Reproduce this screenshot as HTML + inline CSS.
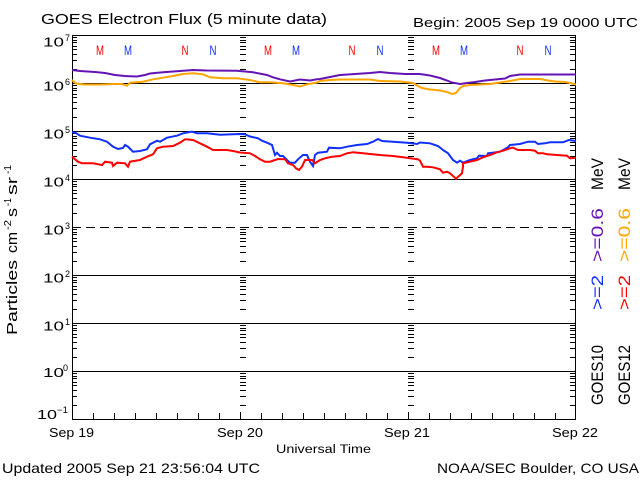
<!DOCTYPE html>
<html>
<head>
<meta charset="utf-8">
<style>
html,body{margin:0;padding:0;background:#fff;}
svg{display:block;}
text{font-family:"Liberation Sans",sans-serif;}
</style>
</head>
<body>
<svg width="640" height="480" viewBox="0 0 640 480" xmlns="http://www.w3.org/2000/svg">
<rect x="0" y="0" width="640" height="480" fill="#fff"/>
<defs>
<path id="tL" d="M0 -14H5M0 -23H5M0 -29H5M0 -34H5M0 -37H5M0 -41H5M0 -43H5M0 -46H5" stroke="#000" stroke-width="1" fill="none"/>
<path id="tD" d="M0 -14H6M0 -23H6M0 -29H6M0 -34H6M0 -37H6M0 -41H6M0 -43H6M0 -46H6" stroke="#000" stroke-width="1" fill="none"/>
<path id="tR" d="M0 -14H-5M0 -23H-5M0 -29H-5M0 -34H-5M0 -37H-5M0 -41H-5M0 -43H-5M0 -46H-5" stroke="#000" stroke-width="1" fill="none"/>
</defs>

<!-- grid lines -->
<g stroke="#000" stroke-width="1" fill="none">
<line x1="72" y1="83.5" x2="576" y2="83.5"/>
<line x1="72" y1="131.5" x2="576" y2="131.5"/>
<line x1="72" y1="179.5" x2="576" y2="179.5"/>
<line x1="72" y1="227.5" x2="576" y2="227.5" stroke-dasharray="9,5"/>
<line x1="72" y1="275.5" x2="576" y2="275.5"/>
<line x1="72" y1="323.5" x2="576" y2="323.5"/>
<line x1="72" y1="371.5" x2="576" y2="371.5"/>
<rect x="72.5" y="35.5" width="503" height="384"/>
<path d="M93.5 419V413M114.5 419V413M135.5 419V413M156.5 419V413M177.5 419V413M198.5 419V413M219.5 419V413M240.5 419V412M261.5 419V413M282.5 419V413M303.5 419V413M324.5 419V413M345.5 419V413M366.5 419V413M387.5 419V413M408.5 419V412M429.5 419V413M450.5 419V413M471.5 419V413M492.5 419V413M513.5 419V413M534.5 419V413M555.5 419V413"/>
</g>

<!-- minor log ticks -->
<g>
<use href="#tL" transform="translate(72,419.5)"/><use href="#tL" transform="translate(72,371.5)"/><use href="#tL" transform="translate(72,323.5)"/><use href="#tL" transform="translate(72,275.5)"/><use href="#tL" transform="translate(72,227.5)"/><use href="#tL" transform="translate(72,179.5)"/><use href="#tL" transform="translate(72,131.5)"/><use href="#tL" transform="translate(72,83.5)"/>
<use href="#tD" transform="translate(240,419.5)"/><use href="#tD" transform="translate(240,371.5)"/><use href="#tD" transform="translate(240,323.5)"/><use href="#tD" transform="translate(240,275.5)"/><use href="#tD" transform="translate(240,227.5)"/><use href="#tD" transform="translate(240,179.5)"/><use href="#tD" transform="translate(240,131.5)"/><use href="#tD" transform="translate(240,83.5)"/>
<use href="#tD" transform="translate(408,419.5)"/><use href="#tD" transform="translate(408,371.5)"/><use href="#tD" transform="translate(408,323.5)"/><use href="#tD" transform="translate(408,275.5)"/><use href="#tD" transform="translate(408,227.5)"/><use href="#tD" transform="translate(408,179.5)"/><use href="#tD" transform="translate(408,131.5)"/><use href="#tD" transform="translate(408,83.5)"/>
<use href="#tR" transform="translate(575,419.5)"/><use href="#tR" transform="translate(575,371.5)"/><use href="#tR" transform="translate(575,323.5)"/><use href="#tR" transform="translate(575,275.5)"/><use href="#tR" transform="translate(575,227.5)"/><use href="#tR" transform="translate(575,179.5)"/><use href="#tR" transform="translate(575,131.5)"/><use href="#tR" transform="translate(575,83.5)"/>
</g>

<!-- data series -->
<g fill="none" stroke-width="2" stroke-linejoin="miter">
<polyline stroke="#6414b4" points="72,70 80,71 95,72 105,73 115,75 125,76 137,76.5 145,75 150,73.5 163,72.3 180,71 193,70 207,70.5 237,70.7 253,72.3 267,75 273,77.3 280,79.3 290,81.5 300,79.5 310,80.5 317,79.3 320,79 330,77 340,75 355,74 370,73 380,72 390,73 405,74 420,74 430,75.5 440,78 447,80.5 452,82.5 460,84 467,83 475,82 485,80.5 495,79.5 505,78.5 510,76 520,74.5 540,74.5 576,74.5"/>
<polyline stroke="#ffa500" points="72,80 76,83.5 85,84.5 100,84.5 115,84 122,84 127,85.7 130,82.7 143,81.7 153,79.3 163,77.7 173,76 183,74 193,73.3 203,74.3 210,77.3 223,78.3 237,78.3 250,80 260,82.3 270,82.3 283,83.3 293,85 300,86.5 307,84.3 317,82.5 320,81 330,80 340,79.5 370,79.5 380,81 400,81.5 413,83 418,86 422,88 430,89.5 440,90.5 447,92 452,94 456,93 460,88 463,86 470,85 480,84.5 490,84 500,82.5 510,81 520,79 540,79 548,80.5 555,81.5 565,82 570,83 576,84.5"/>
<polyline stroke="#1030ff" points="72,132 76,133 80,135.7 90,137.7 100,139.3 107,141.7 113,146.7 118,149 123,148 125,145 128,146.7 133,151.7 140,151 147,149.3 150,144.3 157,140.7 160,141.7 167,137.7 177,135.7 183,133.3 192,131.7 197,133.3 207,133.3 220,134.7 233,134.3 240,134 245,134.3 250,136.5 258,138.3 262,140.7 267,142.7 272,145 273,148.3 275,155 277,152.7 280,156 283,156 287,160 290,162.7 295,162.7 298,159.3 303,155 307,155 310,161.7 313,166 315,155 318,152.7 327,151.7 329,147.7 340,148.3 347,146.7 357,145 367,144 373,141.7 378,139 382,141 393,141.7 407,142.7 417,144 420,142.5 430,143.3 438,146 443,150 448,153.3 453,160 457,162.7 460,160.7 463,162.7 470,160 477,158.3 479,155.7 487,156 488,153.3 500,151.7 508,147.3 510,145 520,144 528,141.7 535,141.7 538,144 545,143.3 550,142.3 563,142.3 569,140 576,141"/>
<polyline stroke="#ff0000" points="72,156.7 78,161.7 82,163.3 93,163.3 102,165 105,161.7 112,162.7 113,166 117,162.7 125,163.3 128,166.7 130,161.7 140,160 147,156.7 153,154.3 157,148.3 163,146.7 173,146 180,142.7 185,139.3 193,140 200,143.3 207,146.7 213,150 227,150 233,151 240,152.5 250,153.3 255,156 260,159.3 265,161.7 270,161.7 275,160 278,159 285,159.3 288,163.3 293,165 296,168.3 299,170 302,166.7 305,160 312,160 315,163.3 320,160 325,158.3 332,156.7 340,156 347,153.3 353,152.3 363,153.3 370,154 380,155 393,156 403,157.3 410,158.3 418,159.3 420,160.7 423,166.7 427,166.7 433,167.3 440,169.3 443,172.7 447,171.7 450,173.3 453,176 456,178.7 459,176 462,173.3 463,166.7 463,163.3 470,161.7 477,160 483,157.3 490,155 497,152.3 503,150.7 510,148.3 513,147.7 518,150 530,150 535,150.7 538,153.3 543,153.3 547,154.3 557,155 567,155.7 570,158.3 576,157.7"/>
</g>

<!-- M / N markers -->
<g font-size="14" text-anchor="middle">
<text x="100" y="55" fill="#ff0000" textLength="8" lengthAdjust="spacingAndGlyphs">M</text>
<text x="128" y="55" fill="#1030ff" textLength="8" lengthAdjust="spacingAndGlyphs">M</text>
<text x="185" y="55" fill="#ff0000" textLength="7" lengthAdjust="spacingAndGlyphs">N</text>
<text x="213" y="55" fill="#1030ff" textLength="7" lengthAdjust="spacingAndGlyphs">N</text>
<text x="268" y="55" fill="#ff0000" textLength="8" lengthAdjust="spacingAndGlyphs">M</text>
<text x="296" y="55" fill="#1030ff" textLength="8" lengthAdjust="spacingAndGlyphs">M</text>
<text x="352" y="55" fill="#ff0000" textLength="7" lengthAdjust="spacingAndGlyphs">N</text>
<text x="380" y="55" fill="#1030ff" textLength="7" lengthAdjust="spacingAndGlyphs">N</text>
<text x="436" y="55" fill="#ff0000" textLength="8" lengthAdjust="spacingAndGlyphs">M</text>
<text x="464" y="55" fill="#1030ff" textLength="8" lengthAdjust="spacingAndGlyphs">M</text>
<text x="520" y="55" fill="#ff0000" textLength="7" lengthAdjust="spacingAndGlyphs">N</text>
<text x="548" y="55" fill="#1030ff" textLength="7" lengthAdjust="spacingAndGlyphs">N</text>
</g>

<!-- title & header -->
<text x="41" y="24" font-size="15" textLength="286" lengthAdjust="spacingAndGlyphs">GOES Electron Flux (5 minute data)</text>
<text x="413" y="27" font-size="13" textLength="225" lengthAdjust="spacingAndGlyphs">Begin: 2005 Sep 19 0000 UTC</text>

<!-- y axis labels -->
<g font-size="13">
<text x="43" y="46.5" textLength="21" lengthAdjust="spacingAndGlyphs">10</text><text x="65" y="41" font-size="9">7</text>
<text x="43" y="90.5" textLength="21" lengthAdjust="spacingAndGlyphs">10</text><text x="65" y="85" font-size="9">6</text>
<text x="43" y="138.5" textLength="21" lengthAdjust="spacingAndGlyphs">10</text><text x="65" y="133" font-size="9">5</text>
<text x="43" y="186.5" textLength="21" lengthAdjust="spacingAndGlyphs">10</text><text x="65" y="181" font-size="9">4</text>
<text x="43" y="234.5" textLength="21" lengthAdjust="spacingAndGlyphs">10</text><text x="65" y="229" font-size="9">3</text>
<text x="43" y="282.5" textLength="21" lengthAdjust="spacingAndGlyphs">10</text><text x="65" y="277" font-size="9">2</text>
<text x="43" y="330.5" textLength="21" lengthAdjust="spacingAndGlyphs">10</text><text x="65" y="325" font-size="9">1</text>
<text x="43" y="377" textLength="21" lengthAdjust="spacingAndGlyphs">10</text><text x="63" y="371" font-size="9">0</text>
<text x="37" y="419" textLength="20" lengthAdjust="spacingAndGlyphs">10</text><text x="57" y="413" font-size="9" textLength="11" lengthAdjust="spacingAndGlyphs">−1</text>
</g>

<!-- y axis title -->
<g transform="translate(17,335) rotate(-90)">
<text x="0" y="0" font-size="15" textLength="75" lengthAdjust="spacingAndGlyphs">Particles</text>
<text x="82" y="0" font-size="15" textLength="21" lengthAdjust="spacingAndGlyphs">cm</text>
<text x="105" y="-6" font-size="10" textLength="10" lengthAdjust="spacingAndGlyphs">-2</text>
<text x="118" y="0" font-size="15" textLength="9" lengthAdjust="spacingAndGlyphs">s</text>
<text x="129" y="-6" font-size="10" textLength="8" lengthAdjust="spacingAndGlyphs">-1</text>
<text x="140" y="0" font-size="15" textLength="18" lengthAdjust="spacingAndGlyphs">sr</text>
<text x="161" y="-6" font-size="10" textLength="9" lengthAdjust="spacingAndGlyphs">-1</text>
</g>

<!-- right legend -->
<g transform="translate(603,405) rotate(-90)" font-size="17">
<text x="0" y="0" textLength="60" lengthAdjust="spacingAndGlyphs">GOES10</text>
<text x="95" y="0" fill="#1030ff" textLength="35" lengthAdjust="spacingAndGlyphs">&gt;=2</text>
<text x="143" y="0" fill="#6414b4" textLength="54" lengthAdjust="spacingAndGlyphs">&gt;=0.6</text>
<text x="215" y="0" textLength="32" lengthAdjust="spacingAndGlyphs">MeV</text>
</g>
<g transform="translate(630,405) rotate(-90)" font-size="17">
<text x="0" y="0" textLength="60" lengthAdjust="spacingAndGlyphs">GOES12</text>
<text x="95" y="0" fill="#ff0000" textLength="35" lengthAdjust="spacingAndGlyphs">&gt;=2</text>
<text x="143" y="0" fill="#ffa500" textLength="54" lengthAdjust="spacingAndGlyphs">&gt;=0.6</text>
<text x="215" y="0" textLength="32" lengthAdjust="spacingAndGlyphs">MeV</text>
</g>

<!-- x axis labels -->
<g font-size="13">
<text x="49" y="437" textLength="45" lengthAdjust="spacingAndGlyphs">Sep 19</text>
<text x="217" y="437" textLength="46" lengthAdjust="spacingAndGlyphs">Sep 20</text>
<text x="384" y="437" textLength="46" lengthAdjust="spacingAndGlyphs">Sep 21</text>
<text x="552" y="437" textLength="46" lengthAdjust="spacingAndGlyphs">Sep 22</text>
</g>
<text x="276" y="453" font-size="11.5" textLength="95" lengthAdjust="spacingAndGlyphs">Universal Time</text>

<!-- footer -->
<text x="2" y="473" font-size="14" textLength="258" lengthAdjust="spacingAndGlyphs">Updated 2005 Sep 21 23:56:04 UTC</text>
<text x="437" y="473" font-size="14" textLength="202" lengthAdjust="spacingAndGlyphs">NOAA/SEC Boulder, CO USA</text>
</svg>
</body>
</html>
